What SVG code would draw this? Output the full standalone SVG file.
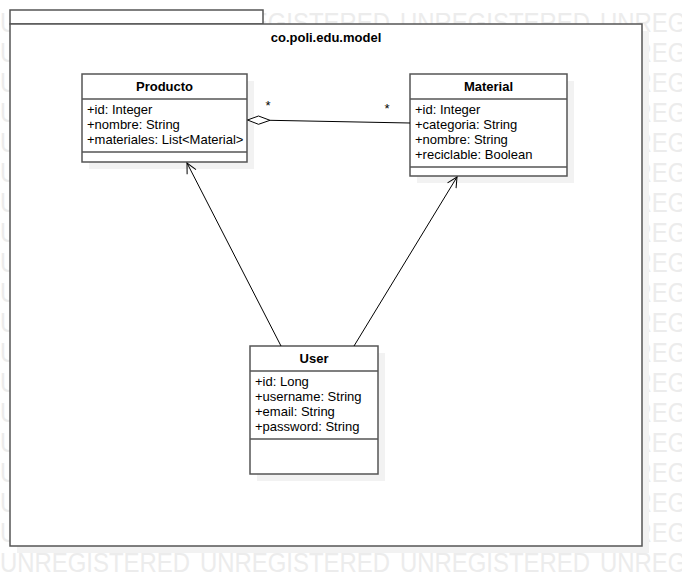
<svg xmlns="http://www.w3.org/2000/svg" width="682" height="586" viewBox="0 0 682 586">
<style>
.wm{font-family:"Liberation Sans",Arial,sans-serif;font-size:27px;fill:#ececec}
.t{font-family:"Liberation Sans",Arial,sans-serif;font-size:13px;fill:#000}
.b{font-weight:bold}
.box{fill:#fff;stroke:#555;stroke-width:1.5}
.sh{fill:#f2f2f2}
.ln{stroke:#555;stroke-width:1.5;fill:none}
.c{stroke:#000;stroke-width:1;fill:none}
</style>
<defs>
<marker id="open" markerWidth="14" markerHeight="14" refX="11" refY="6" orient="auto" markerUnits="userSpaceOnUse">
<path d="M1,1 L11,6 L1,11" fill="none" stroke="#000" stroke-width="1"/>
</marker>
</defs>
<rect width="682" height="586" fill="#fff"/>
<g id="watermark">
<g class="wm">
<text x="0" y="32" textLength="190" lengthAdjust="spacingAndGlyphs">UNREGISTERED</text><text x="200" y="32" textLength="190" lengthAdjust="spacingAndGlyphs">UNREGISTERED</text><text x="400" y="32" textLength="190" lengthAdjust="spacingAndGlyphs">UNREGISTERED</text><text x="600" y="32" textLength="190" lengthAdjust="spacingAndGlyphs">UNREGISTERED</text>
<text x="0" y="62" textLength="190" lengthAdjust="spacingAndGlyphs">UNREGISTERED</text><text x="600" y="62" textLength="190" lengthAdjust="spacingAndGlyphs">UNREGISTERED</text>
<text x="0" y="92" textLength="190" lengthAdjust="spacingAndGlyphs">UNREGISTERED</text><text x="600" y="92" textLength="190" lengthAdjust="spacingAndGlyphs">UNREGISTERED</text>
<text x="0" y="122" textLength="190" lengthAdjust="spacingAndGlyphs">UNREGISTERED</text><text x="600" y="122" textLength="190" lengthAdjust="spacingAndGlyphs">UNREGISTERED</text>
<text x="0" y="152" textLength="190" lengthAdjust="spacingAndGlyphs">UNREGISTERED</text><text x="600" y="152" textLength="190" lengthAdjust="spacingAndGlyphs">UNREGISTERED</text>
<text x="0" y="182" textLength="190" lengthAdjust="spacingAndGlyphs">UNREGISTERED</text><text x="600" y="182" textLength="190" lengthAdjust="spacingAndGlyphs">UNREGISTERED</text>
<text x="0" y="212" textLength="190" lengthAdjust="spacingAndGlyphs">UNREGISTERED</text><text x="600" y="212" textLength="190" lengthAdjust="spacingAndGlyphs">UNREGISTERED</text>
<text x="0" y="242" textLength="190" lengthAdjust="spacingAndGlyphs">UNREGISTERED</text><text x="600" y="242" textLength="190" lengthAdjust="spacingAndGlyphs">UNREGISTERED</text>
<text x="0" y="272" textLength="190" lengthAdjust="spacingAndGlyphs">UNREGISTERED</text><text x="600" y="272" textLength="190" lengthAdjust="spacingAndGlyphs">UNREGISTERED</text>
<text x="0" y="302" textLength="190" lengthAdjust="spacingAndGlyphs">UNREGISTERED</text><text x="600" y="302" textLength="190" lengthAdjust="spacingAndGlyphs">UNREGISTERED</text>
<text x="0" y="332" textLength="190" lengthAdjust="spacingAndGlyphs">UNREGISTERED</text><text x="600" y="332" textLength="190" lengthAdjust="spacingAndGlyphs">UNREGISTERED</text>
<text x="0" y="362" textLength="190" lengthAdjust="spacingAndGlyphs">UNREGISTERED</text><text x="600" y="362" textLength="190" lengthAdjust="spacingAndGlyphs">UNREGISTERED</text>
<text x="0" y="392" textLength="190" lengthAdjust="spacingAndGlyphs">UNREGISTERED</text><text x="600" y="392" textLength="190" lengthAdjust="spacingAndGlyphs">UNREGISTERED</text>
<text x="0" y="422" textLength="190" lengthAdjust="spacingAndGlyphs">UNREGISTERED</text><text x="600" y="422" textLength="190" lengthAdjust="spacingAndGlyphs">UNREGISTERED</text>
<text x="0" y="452" textLength="190" lengthAdjust="spacingAndGlyphs">UNREGISTERED</text><text x="600" y="452" textLength="190" lengthAdjust="spacingAndGlyphs">UNREGISTERED</text>
<text x="0" y="482" textLength="190" lengthAdjust="spacingAndGlyphs">UNREGISTERED</text><text x="600" y="482" textLength="190" lengthAdjust="spacingAndGlyphs">UNREGISTERED</text>
<text x="0" y="512" textLength="190" lengthAdjust="spacingAndGlyphs">UNREGISTERED</text><text x="600" y="512" textLength="190" lengthAdjust="spacingAndGlyphs">UNREGISTERED</text>
<text x="0" y="542" textLength="190" lengthAdjust="spacingAndGlyphs">UNREGISTERED</text><text x="600" y="542" textLength="190" lengthAdjust="spacingAndGlyphs">UNREGISTERED</text>
<text x="0" y="572" textLength="190" lengthAdjust="spacingAndGlyphs">UNREGISTERED</text><text x="200" y="572" textLength="190" lengthAdjust="spacingAndGlyphs">UNREGISTERED</text><text x="400" y="572" textLength="190" lengthAdjust="spacingAndGlyphs">UNREGISTERED</text><text x="600" y="572" textLength="190" lengthAdjust="spacingAndGlyphs">UNREGISTERED</text>
</g>
</g>
<g id="package">
<rect class="sh" x="17" y="31" width="632" height="522"/>
<rect class="box" x="10" y="10" width="253" height="14"/>
<rect class="box" x="10" y="24" width="632" height="522"/>
<text class="t b" x="326" y="42" text-anchor="middle">co.poli.edu.model</text>
</g>
<g id="Producto">
<rect class="sh" x="89" y="81" width="165" height="88"/>
<rect class="box" x="82" y="74" width="165" height="88"/>
<line class="ln" x1="82" y1="99" x2="247" y2="99"/>
<line class="ln" x1="82" y1="152" x2="247" y2="152"/>
<text class="t b" x="164.5" y="91" text-anchor="middle">Producto</text>
<text class="t" x="87" y="114">+id: Integer</text>
<text class="t" x="87" y="129">+nombre: String</text>
<text class="t" x="87" y="144">+materiales: List&lt;Material&gt;</text>
</g>
<g id="Material">
<rect class="sh" x="417" y="81" width="157" height="102"/>
<rect class="box" x="410" y="74" width="157" height="102"/>
<line class="ln" x1="410" y1="99" x2="567" y2="99"/>
<line class="ln" x1="410" y1="167" x2="567" y2="167"/>
<text class="t b" x="488.5" y="91" text-anchor="middle">Material</text>
<text class="t" x="415" y="114">+id: Integer</text>
<text class="t" x="415" y="129">+categoria: String</text>
<text class="t" x="415" y="144">+nombre: String</text>
<text class="t" x="415" y="159">+reciclable: Boolean</text>
</g>
<g id="User">
<rect class="sh" x="257" y="353" width="128" height="128"/>
<rect class="box" x="250" y="346" width="128" height="128"/>
<line class="ln" x1="250" y1="371" x2="378" y2="371"/>
<line class="ln" x1="250" y1="439" x2="378" y2="439"/>
<text class="t b" x="314" y="363" text-anchor="middle">User</text>
<text class="t" x="255" y="386">+id: Long</text>
<text class="t" x="255" y="401">+username: String</text>
<text class="t" x="255" y="416">+email: String</text>
<text class="t" x="255" y="431">+password: String</text>
</g>
<g id="connectors">
<path d="M247.5,120 L258.5,116 L270,120.3 L258.5,124.3 Z" fill="#fff" stroke="#000" stroke-width="1"/>
<line class="c" x1="270" y1="120.3" x2="410" y2="123"/>
<text class="t" x="268" y="110" text-anchor="middle" font-size="12">*</text>
<text class="t" x="387" y="113" text-anchor="middle" font-size="12">*</text>
<line class="c" x1="281" y1="346" x2="187" y2="163" marker-end="url(#open)"/>
<line class="c" x1="354" y1="346" x2="457" y2="177" marker-end="url(#open)"/>
</g>
</svg>
